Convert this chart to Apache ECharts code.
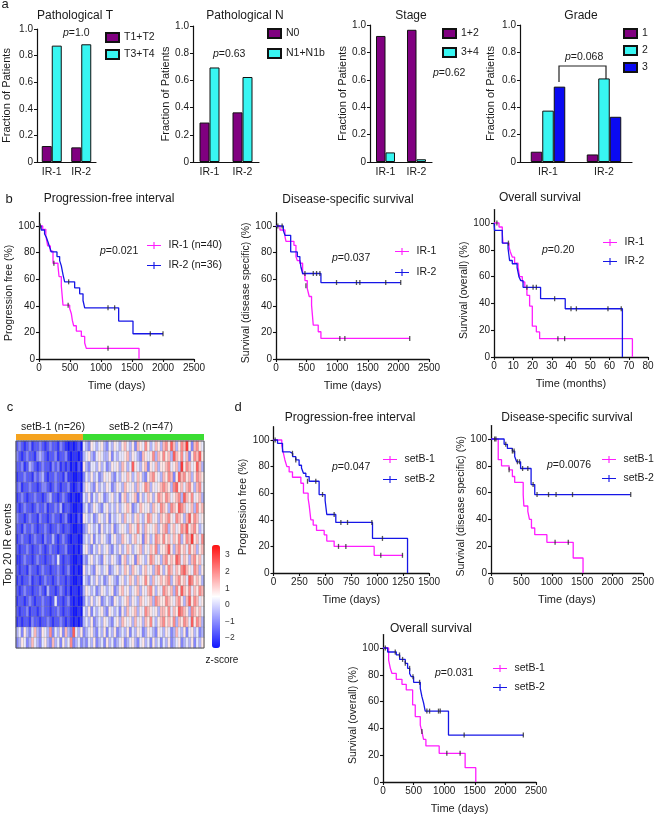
<!DOCTYPE html>
<html><head><meta charset="utf-8">
<script src="https://cdn.jsdelivr.net/npm/echarts@6/dist/echarts.min.js"></script>
<style>html,body{margin:0;padding:0;background:#fff}#c{width:657px;height:818px}</style>
</head><body><div id="c"></div>
<script>
// ---------------- DATA ----------------
const barCats = ['IR-1', 'IR-2'];
const pathT_T12 = [0.12, 0.11];
const pathT_T34 = [0.875, 0.885];
const pathN_N0 = [0.29, 0.365];
const pathN_N1 = [0.695, 0.625];
const stage_12 = [0.92, 0.965];
const stage_34 = [0.07, 0.02];
const grade_1 = [0.075, 0.055];
const grade_2 = [0.375, 0.61];
const grade_3 = [0.55, 0.33];

// Kaplan-Meier step points [time, survival %]
const b1_ir1 = [[0,100],[60,97.5],[110,92.5],[140,85],[183,81],[226,72],[306,70],[323,62],[360,55],[387,40.5],[495,38],[522,34],[538,29],[559,25],[602,21],[683,17],[737,12],[763,8],[1613,0]];
const b1_ir2 = [[0,100],[35,97],[90,94],[118,91.5],[145,88],[172,84],[199,80.5],[290,77],[333,74],[360,70],[387,63.5],[414,58],[575,53.5],[656,49],[710,44],[737,38.5],[1285,28.5],[1516,19],[2000,19]];
const b1_ir1_cens = [[20,100],[240,72],[470,40.5],[1113,8]];
const b1_ir2_cens = [[10,100],[478,58],[1113,38.5],[1220,38.5],[1795,19],[2000,19]];

const b2_ir1 = [[0,100],[65,97],[147,92],[163,88.5],[293,85.5],[326,77],[348,74],[390,72],[435,64],[473,59],[511,53],[543,47],[581,40.5],[609,25.5],[690,20.5],[734,15.5],[2185,15.5]];
const b2_ir2 = [[0,100],[120,96.5],[147,93],[240,80.5],[348,77],[390,74.5],[408,69],[435,64.3],[734,57.5],[2040,57.5]];
const b2_ir1_cens = [[30,100],[489,55],[1043,15.5],[1125,15.5],[2185,15.5]];
const b2_ir2_cens = [[100,100],[473,64.3],[609,64.3],[663,64.3],[717,64.3],[989,57.5],[1315,57.5],[1370,57.5],[1793,57.5],[2038,57.5]];

const b3_ir1 = [[0,100],[2.6,97],[4.3,92],[4.7,85],[7.8,82],[8.5,78.4],[9.5,74.6],[10.7,70],[12.5,67],[13.3,60],[14.7,56],[16,52],[17.1,46],[18.5,38],[19.9,23],[22,18.7],[23.7,13.7],[71.9,0]];
const b3_ir2 = [[0,100],[0.3,94.5],[4.3,85],[7.3,81],[8.1,72],[9.5,69.6],[12,66.7],[13,59.7],[13.9,57],[15.1,52],[24.2,43.5],[37,36],[66.7,0]];
const b3_ir1_cens = [[7.5,85],[33.2,13.7],[36.7,13.7]];
const b3_ir2_cens = [[1.5,100],[17.1,52],[20.3,52],[22,52],[31.5,43.5],[40,36],[42.8,36],[59.2,36],[66.1,36]];

const d1_s1 = [[0,100],[80,96],[96,90],[110,85],[129,80],[151,76],[183,72],[264,67.5],[289,60],[334,56],[344,51],[360,40],[383,36],[415,32],[489,28.7],[514,24],[585,20],[971,13.3],[1250,13.3]];
const d1_s2 = [[0,100],[39,97.5],[87,91],[160,90],[185,87.5],[215,85],[247,81],[270,79],[289,75],[312,72.5],[344,69],[440,59],[498,54.5],[514,44],[601,38],[955,26],[1293,0]];
const d1_s1_cens = [[627,20],[698,20],[1035,13.3],[1244,13.3]];
const d1_s2_cens = [[16,100],[183,90],[215,85],[328,69],[408,69],[473,59],[585,44],[650,38],[714,38],[949,38],[1051,26]];

const d2_s1 = [[0,100],[119,84.6],[173,80],[298,77],[352,72],[390,67.6],[530,58.5],[541,50],[606,46],[633,40],[666,33.6],[720,28.6],[920,22.9],[1353,11.2],[1515,0]];
const d2_s2 = [[0,100],[216,96],[270,93],[352,91],[390,87],[422,83],[487,78],[660,66],[720,58.5],[2300,58.5]];
const d2_s1_cens = [[60,100],[298,77],[1055,22.9],[1272,22.9]];
const d2_s2_cens = [[81,100],[243,96],[352,91],[380,91],[435,83],[470,83],[520,78],[606,78],[693,66],[758,58.5],[947,58.5],[1071,58.5],[1342,58.5],[2300,58.5]];

const d3_s1 = [[0,100],[92,91],[120,84.8],[147,81],[217,76.6],[310,72.9],[380,68.7],[484,57.5],[527,48.8],[609,42.5],[636,37.6],[663,31.8],[701,26.9],[918,21.4],[1342,10.7],[1516,0]];
const d3_s2 = [[0,100],[76,97],[217,94.8],[272,91.5],[364,88.6],[402,84.8],[435,81],[462,78.6],[500,74.4],[609,69.9],[636,63.7],[663,59],[690,52.9],[1070,35],[2293,35]];
const d3_s1_cens = [[636,37.6],[1043,21.4],[1260,21.4]];
const d3_s2_cens = [[38,100],[200,97],[270,94.8],[320,91.5],[364,88.6],[435,84.8],[490,78.6],[598,74.4],[717,52.9],[761,52.9],[907,52.9],[935,52.9],[1326,35],[2293,35]];

const kmYTicks = [0, 20, 40, 60, 80, 100];

// Heatmap: z-score level codes (estimated), 20 rows; setB-1 (26 cols) + setB-2 (47 cols)
const zCode = {A:-2.6,B:-2.2,C:-1.7,D:-1.1,E:-0.5,F:0.2,G:0.8,H:1.4,I:2.0,J:2.6,K:3.1,L:3.5};
const groupSizes = [26, 47];
const setB1Rows = [
"CDCBCDBCCDCBCDCCBDCBABABCA","DCBCDCCBDEDCBCCDBCCDBABBAB","CCDBCEDCBCDCCBDCDBCBCABACA","BCCDCCBDCDECBCCDCCBDBBAABA",
"CDBCCDCCBCDDCBCDCBCCDBABCA","BCDCBCCDCCBCDECCBCDCBABAAB","CBCDCCBCDCCDBCCDCEBCCBAABA","DCCBCDCCBDCCBCDCCBCDBABACA",
"CCBDCCDCBCCDCBCCDCBCCBAABA","BCDCCBCDCCBDCCECBCDCBABBAA","CBCCDCBCCDCBCDCCBCCDBBABAB","BBCDCCBCDCCBCCDCFCBCCBAABA",
"CBCCBDCCBCDCCBCCDCBCDBABAA","BCBCCDBCCBCDCCBCDCCBCBAABA","CBCDCCBCCDCBECCBCDCBCABBAB","BCCBCDCBCCDCCBCFCCBCDBABAA",
"CBCCDBCCBCDCCBCCDCBCCBAABA","BCBCCBDCCBCCDCBCCDCBCBABAB","EFDGEDFHEDGFEIDFEGDHEDJFEG","DEGFDEHFEDFGEDHEFDGEFIDEFD"];
const setB2Rows = [
"FEDGFEFGEDFEGFE"+"GHFEGDHGFIGEFHGE"+"HIGJHEGIHKGDHIGF",
"EFGEDFGFEEGDFEF"+"FGHEGFEDHGFGIEHG"+"IGHEJHGIFHDGIHJG",
"GEDFFEGEFDEGFGE"+"HGEFJGFEGHDGFHEG"+"GHIFGHEKGIHFGJHE",
"DFEGEFDEGFGEDFE"+"GFHGEFHGEDGHIGFE"+"HGIHDGJHIGHEGIHG",
"EGFEDGEFEGFDEGF"+"EHGFGEHFGIHEGFGH"+"IHGEIJGHFHIGEHIF",
"FEGDFEGFDEFGEFD"+"GHEFGHDGEFHGEGIH"+"GIHFGHIEJHGIFGHE",
"EFDEGFEDFGEFEGE"+"FGHGDEFHGFGEHGFI"+"HGEIHGJIHFGHEIGH",
"GFEFDEGFEGDFEFG"+"EHFGEGHFEGIHFGEH"+"GHIGFIHGEHJGIHFG",
"DEGFEFDGEFEGDEF"+"GFEHGFIGEHGFGHEG"+"HIEGHFGIHJGHIGEF",
"EFEGDFEGFEDFGEE"+"HGFEGHFGDHGEFIHG"+"IGHFHGIEGIHKGHFI",
"FGEDFEGEFGEDFEG"+"EFHGEFGHEGFHGIEG"+"GHJGEHIGHFIGHEGH",
"EDFGEFEDGFEGFED"+"GHEFGDHGFEGIHFGE"+"HIGHGJIFHGEHIGHF",
"GEFEDGFEFGDEFGE"+"FHGEHGFEGHFGEHIG"+"EGIHFHGIJHGFIHEG",
"FEDFEGEFDEGFEDF"+"GEFHGEHFGIGEHFGH"+"GHIEGHIGHFJIGHGE",
"EGFEFDEGFEFGDEG"+"HFGEFGHEGFHIGEGF"+"IHGHEIGJHGIFHGIH",
"DFEGEFGDEFEDGFE"+"FGHEGFEHGFGHEIHG"+"GIHGFHIGEHJGIHFG",
"FEGDFEFGEDGFEFD"+"GEHFGHEGFIHGFGEH"+"HGIFHGJIHGEIHGHF",
"EFEGDEFEGFEDFGE"+"HGFGEHFGEHGIFEGH"+"IGHGIEHGIHFJGIHE",
"DEFGEDFEGDFEGDE"+"FEGDFEGFDEGFEDGF"+"EGFDEHFEGDFGEFDE",
"EDFEGDEFDGEFDEF"+"GDEFGEDFGEFDGEFD"+"FEGDEFGDEFEGDFEG"];
const zTicks = [-2, -1, 0, 1, 2, 3];

// ---------------- BUILD ----------------
const FONT = '"Liberation Sans", Arial, sans-serif';
const TXT = '#1a1a1a';
const C_PURPLE = '#800080', C_CYAN = '#38F6F2', C_BLUE = '#0A0AF2';
const C_MAG = '#FF1CFF', C_KB = '#1616E6';
const KMICON = 'path://M0,44L200,44L200,58L0,58Z M92,0L108,0L108,100L92,100Z';

const grids = [], xAxes = [], yAxes = [], series = [], legends = [], graphics = [];

function text(x, y, s, size, opt) {
  opt = opt || {};
  graphics.push({type:'text', x:x, y:y, silent:true, rotation: opt.rot || 0,
    style:Object.assign({text:s, fill:TXT, font:(opt.weight||'normal')+' '+size+'px '+FONT,
      align:opt.align||'center', verticalAlign:'middle'}, opt.style||{})});
}
function pval(x, y, s) {
  graphics.push({type:'text', x:x, y:y, silent:true,
    style:{text:'{i|p}=' + s, fill:TXT, font:'10.5px '+FONT, align:'left', verticalAlign:'middle',
      rich:{i:{fontStyle:'italic', fontSize:10.5, fontFamily:FONT, fill:TXT}}}});
}

function barPanel(g, names, vals, colors, barW, yName, yGap, leg) {
  const gi = grids.length;
  grids.push(Object.assign({containLabel:false}, g));
  xAxes.push({type:'category', gridIndex:gi, data:barCats,
    axisLine:{lineStyle:{color:'#111', width:1.2}}, axisTick:{show:false},
    axisLabel:{fontSize:10.5, color:TXT, fontFamily:FONT, margin:5}});
  yAxes.push({type:'value', gridIndex:gi, min:0, max:1, interval:0.2,
    name:yName, nameLocation:'middle', nameGap:yGap,
    nameTextStyle:{fontSize:11, color:TXT, fontFamily:FONT},
    axisLine:{show:true, lineStyle:{color:'#111', width:1.2}},
    axisTick:{show:true, length:3, lineStyle:{color:'#111'}},
    splitLine:{show:false},
    axisLabel:{fontSize:10, color:TXT, fontFamily:FONT, margin:4,
      formatter:v => v === 0 ? '0' : v.toFixed(1)}});
  names.forEach((n, i) => {
    series.push({type:'bar', name:n, xAxisIndex:gi, yAxisIndex:gi, data:vals[i],
      barWidth:barW, barGap:'0%', silent:true,
      itemStyle:{color:colors[i], borderColor:'#111', borderWidth:1}});
  });
  legends.push({orient:'vertical', left:leg[0], top:leg[1], itemGap:leg[2], padding:0,
    itemWidth:13, itemHeight:9, icon:'rect', selectedMode:false, data:names,
    textStyle:{fontSize:10.5, color:TXT, fontFamily:FONT}});
}

function kmPanel(g, xmax, xint, xName, yName, yGap, curves, leg) {
  const gi = grids.length;
  grids.push(Object.assign({containLabel:false}, g));
  xAxes.push({type:'value', gridIndex:gi, min:0, max:xmax, interval:xint,
    name:xName, nameLocation:'middle', nameGap:21,
    nameTextStyle:{fontSize:11, color:TXT, fontFamily:FONT},
    axisLine:{lineStyle:{color:'#111', width:1.3}},
    axisTick:{show:true, length:3, lineStyle:{color:'#111', width:1.1}},
    splitLine:{show:false},
    axisLabel:{fontSize:10, color:TXT, fontFamily:FONT, margin:4, formatter:v => String(v)}});
  yAxes.push({type:'value', gridIndex:gi, min:0, max:110,
    name:yName, nameLocation:'middle', nameGap:yGap,
    nameTextStyle:{fontSize:10.5, color:TXT, fontFamily:FONT, padding:[0,0,0,-14]},
    axisLine:{show:true, lineStyle:{color:'#111', width:1.3}},
    axisTick:{show:true, length:3, customValues:kmYTicks, lineStyle:{color:'#111', width:1.1}},
    splitLine:{show:false},
    axisLabel:{fontSize:10, color:TXT, fontFamily:FONT, margin:4, customValues:kmYTicks}});
  curves.forEach(c => {
    series.push({type:'line', name:c.name, xAxisIndex:gi, yAxisIndex:gi, data:c.data,
      step:'end', showSymbol:false, symbol:'none', silent:true, color:c.color,
      lineStyle:{color:c.color, width:1.3}, z:3});
    series.push({type:'scatter', name:'_cens', xAxisIndex:gi, yAxisIndex:gi, data:c.cens,
      symbol:'rect', symbolSize:[1.3, 5], silent:true, itemStyle:{color:'#2a2a2a'}, z:4});
  });
  legends.push({orient:'vertical', left:leg[0], top:leg[1], itemGap:leg[2], padding:0,
    itemWidth:19, itemHeight:7, icon:KMICON, selectedMode:false,
    data:curves.map(c => c.name), textStyle:{fontSize:10.5, color:TXT, fontFamily:FONT}});
}

// ---- panel a ----
barPanel({left:37, top:29, width:59, height:133}, ['T1+T2','T3+T4'], [pathT_T12, pathT_T34],
  [C_PURPLE, C_CYAN], 10, 'Fraction of Patients', 25, [105, 32, 6]);
barPanel({left:193, top:26, width:66, height:136}, ['N0','N1+N1b'], [pathN_N0, pathN_N1],
  [C_PURPLE, C_CYAN], 10, 'Fraction of Patients', 20, [267, 28, 9]);
barPanel({left:370, top:25, width:62, height:137}, ['1+2','3+4'], [stage_12, stage_34],
  [C_PURPLE, C_CYAN], 9.5, 'Fraction of Patients', 22, [442, 28, 8]);
barPanel({left:520, top:25, width:112, height:137}, ['1','2','3'], [grade_1, grade_2, grade_3],
  [C_PURPLE, C_CYAN, C_BLUE], 11.5, 'Fraction of Patients', 24, [623, 28, 6]);

// ---- panel b ----
kmPanel({left:39, top:212.7, width:155, height:146.3}, 2500, 500, 'Time (days)', 'Progression free (%)', 21,
  [{name:'IR-1 (n=40)', data:b1_ir1, cens:b1_ir1_cens, color:C_MAG},
   {name:'IR-2 (n=36)', data:b1_ir2, cens:b1_ir2_cens, color:C_KB}], [147, 240, 9]);
kmPanel({left:276, top:212.7, width:153, height:146.3}, 2500, 500, 'Time (days)', 'Survival (disease specific) (%)', 20,
  [{name:'IR-1', data:b2_ir1, cens:b2_ir1_cens, color:C_MAG},
   {name:'IR-2', data:b2_ir2, cens:b2_ir2_cens, color:C_KB}], [395, 246, 10]);
kmPanel({left:494, top:209.6, width:154, height:147.4}, 80, 10, 'Time (months)', 'Survival (overall) (%)', 19,
  [{name:'IR-1', data:b3_ir1, cens:b3_ir1_cens, color:C_MAG},
   {name:'IR-2', data:b3_ir2, cens:b3_ir2_cens, color:C_KB}], [603, 237, 8]);

// ---- panel d ----
kmPanel({left:273.5, top:426.7, width:155.5, height:146.3}, 1500, 250, 'Time (days)', 'Progression free (%)', 18,
  [{name:'setB-1', data:d1_s1, cens:d1_s1_cens, color:C_MAG},
   {name:'setB-2', data:d1_s2, cens:d1_s2_cens, color:C_KB}], [383, 454, 9]);
kmPanel({left:491, top:425.6, width:153, height:147.4}, 2500, 500, 'Time (days)', 'Survival (disease specific) (%)', 24,
  [{name:'setB-1', data:d2_s1, cens:d2_s1_cens, color:C_MAG},
   {name:'setB-2', data:d2_s2, cens:d2_s2_cens, color:C_KB}], [602, 454, 8]);
kmPanel({left:383, top:634.6, width:153, height:147.4}, 2500, 500, 'Time (days)', 'Survival (overall) (%)', 19,
  [{name:'setB-1', data:d3_s1, cens:d3_s1_cens, color:C_MAG},
   {name:'setB-2', data:d3_s2, cens:d3_s2_cens, color:C_KB}], [493, 663, 8]);

// ---- panel c : heatmap ----
const nCols = groupSizes[0] + groupSizes[1];
const nRows = setB1Rows.length;
const hmData = [];
for (let r = 0; r < nRows; r++) {
  const row = setB1Rows[r] + setB2Rows[r];
  for (let c = 0; c < nCols && c < row.length; c++) hmData.push([c, r, zCode[row[c]]]);
}
const hmGi = grids.length;
grids.push({left:16, top:441, width:188, height:207, show:true, borderColor:'#555', borderWidth:1, z:5, backgroundColor:'transparent'});
xAxes.push({type:'category', gridIndex:hmGi, data:Array.from({length:nCols}, (_, i) => i), show:false});
yAxes.push({type:'category', gridIndex:hmGi, data:Array.from({length:nRows}, (_, i) => i), inverse:true,
  name:'Top 20 IR events', nameLocation:'middle', nameGap:3,
  nameTextStyle:{fontSize:11, color:TXT, fontFamily:FONT},
  axisLine:{show:false}, axisTick:{show:false}, axisLabel:{show:false}});
const hmSeriesIndex = series.length;
series.push({type:'heatmap', xAxisIndex:hmGi, yAxisIndex:hmGi, data:hmData, silent:true,
  itemStyle:{borderColor:'rgba(130,130,130,0.5)', borderWidth:0.5}});

// header group bar
const hdGi = grids.length;
grids.push({left:16, top:434, width:188, height:6});
xAxes.push({type:'value', gridIndex:hdGi, min:0, max:nCols, show:false});
yAxes.push({type:'category', gridIndex:hdGi, data:['g'], show:false});
series.push({type:'bar', name:'_g1', stack:'hdr', xAxisIndex:hdGi, yAxisIndex:hdGi, data:[groupSizes[0]],
  barWidth:6, silent:true, itemStyle:{color:'#F5A31F'}});
series.push({type:'bar', name:'_g2', stack:'hdr', xAxisIndex:hdGi, yAxisIndex:hdGi, data:[groupSizes[1]],
  barWidth:6, silent:true, itemStyle:{color:'#3BDD33'}});

// colour-bar label axis
const cbGi = grids.length;
grids.push({left:212, top:545, width:8, height:103});
xAxes.push({type:'value', gridIndex:cbGi, min:0, max:1, show:false});
yAxes.push({type:'value', gridIndex:cbGi, min:-2.6, max:3.6, position:'right',
  axisLine:{show:false}, axisTick:{show:false}, splitLine:{show:false},
  axisLabel:{fontSize:8.5, color:'#333', fontFamily:FONT, margin:5, customValues:zTicks,
    formatter:v => v < 0 ? '\u2212' + Math.abs(v) : String(v)}});
series.push({type:'scatter', name:'_cb', xAxisIndex:cbGi, yAxisIndex:cbGi, data:[], silent:true});

// ---- texts ----
text(5, 4, 'a', 13);
text(9, 199, 'b', 13);
text(10, 407, 'c', 13);
text(238, 407, 'd', 13);
text(75, 16, 'Pathological T', 12);
text(245, 16, 'Pathological N', 12);
text(411, 16, 'Stage', 12);
text(581, 16, 'Grade', 12);
text(109, 199, 'Progression-free interval', 12);
text(348, 200, 'Disease-specific survival', 12);
text(540, 198, 'Overall survival', 12);
text(350, 418, 'Progression-free interval', 12);
text(567, 418, 'Disease-specific survival', 12);
text(431, 629, 'Overall survival', 12);
text(53, 427, 'setB-1 (n=26)', 10.5);
text(141, 427, 'setB-2 (n=47)', 10.5);
text(222, 660, 'z-score', 10);
pval(63, 33, '1.0');
pval(213, 54, '0.63');
pval(433, 73, '0.62');
pval(565, 57, '0.068');
pval(100, 251, '0.021');
pval(332, 258, '0.037');
pval(542, 250, '0.20');
pval(332, 467, '0.047');
pval(547, 465, '0.0076');
pval(435, 673, '0.031');
// significance bracket (grade)
graphics.push({type:'polyline', silent:true, shape:{points:[[559,82],[559,66],[606,66],[606,108]]},
  style:{stroke:'#222', lineWidth:1.2, fill:null}});

const chart = echarts.init(document.getElementById('c'), null, {width:657, height:818});
chart.setOption({
  animation:false,
  backgroundColor:'#fff',
  textStyle:{fontFamily:FONT},
  grid:grids, xAxis:xAxes, yAxis:yAxes, series:series, legend:legends,
  visualMap:[{type:'continuous', seriesIndex:hmSeriesIndex, min:-2.6, max:3.6,
    left:212, top:545, itemWidth:8, itemHeight:103, padding:0, calculable:false, hoverLink:false,
    inRange:{color:['#1015FF', '#FFFFFF', '#FF1010']}}],
  graphic:graphics
});
</script></body></html>
